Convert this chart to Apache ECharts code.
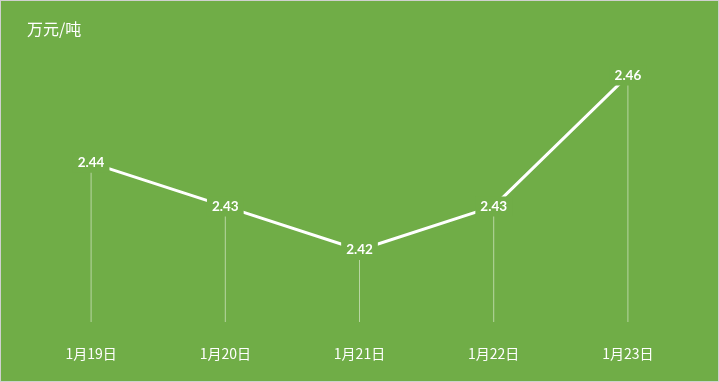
<!DOCTYPE html>
<html><head><meta charset="utf-8">
<script src="https://cdn.jsdelivr.net/npm/echarts@6/dist/echarts.min.js"></script>
<style>html,body{margin:0;padding:0;background:#70AD47;}#c{width:719px;height:382px;box-sizing:border-box;border:1px solid #d0d0d0;}</style>
</head><body><div id="c"></div>
<script>
const categories = ['1月19日','1月20日','1月21日','1月22日','1月23日'];
const prices = [2.44, 2.43, 2.42, 2.43, 2.46];
const unitTitle = '万元/吨';

const chart = echarts.init(document.getElementById('c'));
chart.setOption({
  backgroundColor: '#70AD47',
  animation: false,
  title: { text: unitTitle, left: 21, top: 15,
    textStyle: { color: '#ffffff', fontSize: 16, fontWeight: 'normal', fontFamily: 'Noto Sans CJK SC' } },
  grid: { left: 23, right: 23, top: 31, bottom: 59 },
  xAxis: { type: 'category', data: categories, boundaryGap: true,
    axisLine: { show: false }, axisTick: { show: false }, splitLine: { show: false },
    axisLabel: { color: '#ffffff', fontSize: 14, margin: 25, fontFamily: 'Noto Sans CJK SC' } },
  yAxis: { type: 'value', min: 2.4035, max: 2.47, show: false, splitLine: { show: false } },
  series: [
    { type: 'bar', data: prices, barWidth: 1, z: 1,
      itemStyle: { color: 'rgba(255,255,255,0.5)' } },
    { type: 'line', data: prices, z: 3, symbol: 'circle', symbolSize: 1,
      lineStyle: { color: '#ffffff', width: 3 }, itemStyle: { color: '#ffffff' },
      label: { show: true, position: 'inside', color: '#ffffff', fontWeight: 'bold', fontSize: 13.5,
        fontFamily: 'Lato', backgroundColor: '#70AD47', padding: [3, 5],
        formatter: p => p.value.toFixed(2) } }
  ]
});
</script></body></html>
